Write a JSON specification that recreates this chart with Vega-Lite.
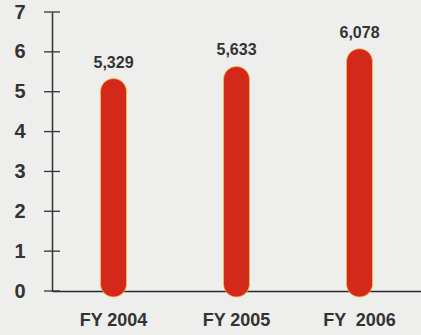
{
  "$schema": "https://vega.github.io/schema/vega-lite/v6.json",
  "width": 369,
  "height": 279,
  "autosize": "none",
  "padding": {"left": 52, "top": 12, "right": 0, "bottom": 44},
  "background": "#eeeeec",
  "config": {"view": {"stroke": null}},
  "datasets": {
    "sales": [
      {"year": "FY 2004", "value": 5329, "label": "5,329"},
      {"year": "FY 2005", "value": 5633, "label": "5,633"},
      {"year": "FY \u00a02006", "value": 6078, "label": "6,078"}
    ],
    "ticks": [{"value": 0}, {"value": 1000}, {"value": 2000}, {"value": 3000}, {"value": 4000}, {"value": 5000}, {"value": 6000}, {"value": 7000}]
  },
  "layer": [
    {
      "data": {"name": "sales"},
      "mark": {"type": "bar", "width": 26, "cornerRadius": 13, "color": "#d2291b", "stroke": "#f2c14a", "strokeWidth": 1, "strokeOpacity": 0.8},
      "encoding": {
        "x": {"field": "year", "type": "nominal", "sort": null,
          "scale": {"domain": ["FY 2004", "FY 2005", "FY \u00a02006"], "paddingInner": 0, "paddingOuter": 0},
          "axis": {"title": null, "labelAngle": 0, "labelFont": "Liberation Sans", "labelFontWeight": "bold",
            "labelFontSize": 18, "labelColor": "#333333", "labelPadding": 20, "ticks": false,
            "domainColor": "#2a2a2a", "domainWidth": 1.6}},
        "y": {"field": "value", "type": "quantitative",
          "scale": {"domain": [0, 7000], "nice": false},
          "axis": {"title": null, "values": [0,1000,2000,3000,4000,5000,6000,7000],
            "labelExpr": "datum.value/1000", "labelFont": "Liberation Sans", "labelFontWeight": "bold",
            "labelFontSize": 20, "labelColor": "#333333", "labelPadding": 27, "ticks": false,
            "domainColor": "#333333", "domainWidth": 1.5, "grid": false}},
        "y2": {"datum": -150}
      }
    },
    {
      "data": {"name": "sales"},
      "mark": {"type": "text", "baseline": "bottom", "dy": -8, "font": "Liberation Sans", "fontWeight": "bold", "fontSize": 16, "color": "#333333"},
      "encoding": {
        "x": {"field": "year", "type": "nominal", "sort": null,
          "scale": {"domain": ["FY 2004", "FY 2005", "FY \u00a02006"], "paddingInner": 0, "paddingOuter": 0},
          "axis": null},
        "y": {"field": "value", "type": "quantitative",
          "scale": {"domain": [0, 7000], "nice": false},
          "axis": {"title": null, "values": [0,1000,2000,3000,4000,5000,6000,7000],
            "labelExpr": "datum.value/1000", "labelFont": "Liberation Sans", "labelFontWeight": "bold",
            "labelFontSize": 20, "labelColor": "#333333", "labelPadding": 27, "ticks": false,
            "domainColor": "#333333", "domainWidth": 1.5, "grid": false}},
        "text": {"field": "label"}
      }
    },
    {
      "data": {"name": "ticks"},
      "mark": {"type": "rule", "strokeWidth": 1.3, "color": "#333333"},
      "encoding": {
        "x": {"datum": -0.0217, "type": "quantitative", "scale": {"domain": [0, 1], "nice": false, "zero": false}, "axis": null},
        "x2": {"datum": 0.0217},
        "y": {"field": "value", "type": "quantitative",
          "scale": {"domain": [0, 7000], "nice": false},
          "axis": {"title": null, "values": [0,1000,2000,3000,4000,5000,6000,7000],
            "labelExpr": "datum.value/1000", "labelFont": "Liberation Sans", "labelFontWeight": "bold",
            "labelFontSize": 20, "labelColor": "#333333", "labelPadding": 27, "ticks": false,
            "domainColor": "#333333", "domainWidth": 1.5, "grid": false}}
      }
    }
  ],
  "resolve": {"scale": {"x": "independent"}}
}
